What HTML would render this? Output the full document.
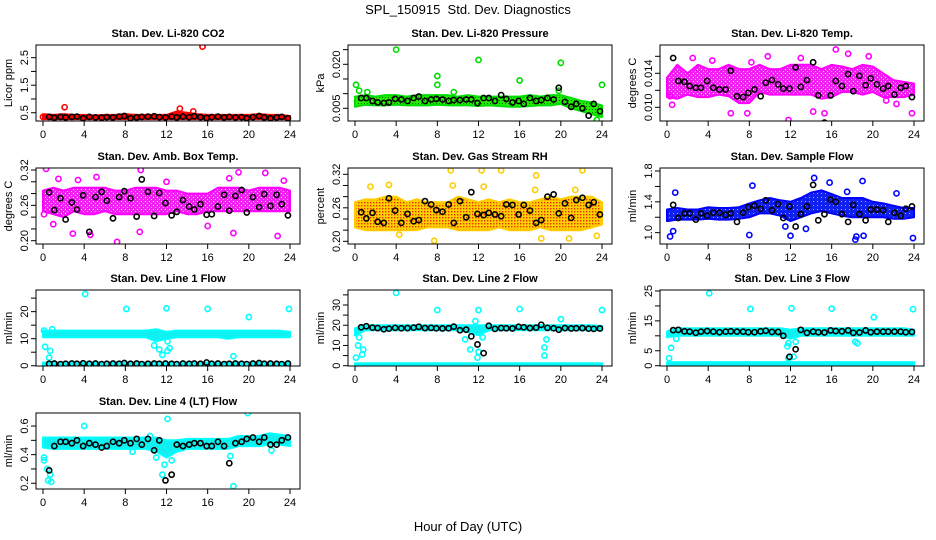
<!DOCTYPE html>
<html><head><meta charset="utf-8"><style>
body{margin:0;background:#fff;}
svg{display:block;font-family:"Liberation Sans",sans-serif;}
</style></head><body>
<svg id="c" width="936" height="540" viewBox="0 0 936 540">
<defs>
<pattern id="rhpat" width="3" height="3" patternUnits="userSpaceOnUse"><rect width="3" height="3" fill="#ffd000"/><rect x="1" y="1" width="1.4" height="1.4" fill="#e83000"/></pattern>
<pattern id="grnpat" width="3" height="3" patternUnits="userSpaceOnUse"><rect width="3" height="3" fill="#22ee00"/><rect x="1" y="1" width="1" height="1" fill="#0a6600"/></pattern>
<pattern id="magpat" width="4" height="4" patternUnits="userSpaceOnUse"><rect width="4" height="4" fill="#f020f0"/><rect x="1" y="1" width="1" height="1" fill="#ffffff"/><rect x="3" y="3" width="1" height="1" fill="#ffb0ff"/></pattern>
<pattern id="bluepat" width="4" height="4" patternUnits="userSpaceOnUse"><rect width="4" height="4" fill="#1020f0"/><rect x="1" y="1" width="1" height="1" fill="#a0a8ff"/></pattern>
</defs>
<text x="468" y="14" font-size="13" text-anchor="middle" xml:space="preserve">SPL_150915  Std. Dev. Diagnostics</text>
<text x="468" y="531" font-size="13" text-anchor="middle">Hour of Day (UTC)</text>
</svg>
<script>
const hours = [0,1,2,3,4,5,6,7,8,9,10,11,12,13,14,15,16,17,18,19,20,21,22,23,24];
const blackHours = [0.6,1.1,1.7,2.2,2.8,3.3,3.9,4.5,5.1,5.7,6.2,6.8,7.4,7.9,8.5,9.1,9.6,10.2,10.8,11.3,11.9,12.5,13.0,13.6,14.2,14.7,15.3,15.9,16.4,17.0,17.6,18.1,18.7,19.3,19.8,20.4,21.0,21.5,22.1,22.7,23.2,23.8];
const xTicks = [0,4,8,12,16,20,24];

const co2Lo = [0.27,0.27,0.27,0.27,0.27,0.27,0.27,0.27,0.27,0.27,0.27,0.27,0.27,0.27,0.27,0.27,0.27,0.27,0.27,0.27,0.27,0.27,0.27,0.27,0.27];
const co2Hi = [0.45,0.42,0.45,0.42,0.42,0.4,0.42,0.42,0.45,0.42,0.42,0.42,0.42,0.55,0.5,0.45,0.42,0.42,0.42,0.42,0.42,0.45,0.42,0.42,0.38];
const co2Black = [0.35,0.32,0.35,0.33,0.35,0.36,0.3,0.35,0.33,0.32,0.34,0.33,0.36,0.38,0.3,0.33,0.35,0.36,0.37,0.34,0.33,0.36,0.33,0.36,0.34,0.37,0.34,0.31,0.34,0.36,0.33,0.35,0.33,0.34,0.3,0.34,0.38,0.33,0.3,0.33,0.35,0.3];
const co2Out = [[2.1,0.7],[15.5,2.9],[13.3,0.65],[14.6,0.55],[0,0.35]];

const presLo = [0.0055,0.0062,0.006,0.006,0.0062,0.006,0.006,0.006,0.0062,0.006,0.006,0.006,0.0058,0.006,0.0058,0.0055,0.0055,0.0058,0.006,0.006,0.0065,0.005,0.004,0.003,0.002];
const presHi = [0.009,0.0095,0.009,0.0095,0.0095,0.009,0.0095,0.0095,0.0095,0.0095,0.009,0.0095,0.009,0.009,0.009,0.009,0.009,0.0095,0.009,0.0095,0.0095,0.0085,0.0075,0.007,0.006];
const presBlack = [0.0085,0.0085,0.0075,0.007,0.0068,0.007,0.0082,0.008,0.0075,0.0085,0.009,0.0075,0.008,0.0082,0.008,0.0075,0.0078,0.0078,0.008,0.008,0.0068,0.0085,0.0085,0.0075,0.0095,0.0082,0.007,0.0075,0.0065,0.0085,0.0075,0.0078,0.0085,0.008,0.012,0.0072,0.0055,0.0065,0.005,0.0025,0.0065,0.004];
const presOut = [[0.1,0.013],[0.4,0.011],[4,0.025],[8,0.016],[8,0.013],[12,0.0215],[16,0.0145],[20,0.0205],[24,0.013],[19.8,0.011],[23.5,0.001],[1.2,0.0105],[9.6,0.0105]];

const tempLo = [0.0112,0.011,0.0115,0.0112,0.0112,0.0115,0.0113,0.0105,0.0105,0.0118,0.0115,0.0115,0.0115,0.0115,0.0115,0.011,0.0112,0.0118,0.0118,0.0115,0.0118,0.0112,0.0112,0.0112,0.0115];
const tempHi = [0.0135,0.015,0.014,0.015,0.0145,0.0145,0.015,0.0145,0.0145,0.015,0.0145,0.0145,0.015,0.015,0.015,0.0145,0.015,0.0148,0.0145,0.015,0.0148,0.014,0.0132,0.013,0.0128];
const tempBlack = [0.0158,0.0131,0.013,0.0125,0.0123,0.0123,0.0131,0.0123,0.0121,0.0121,0.0143,0.0113,0.0112,0.0117,0.0121,0.0113,0.0129,0.0132,0.0127,0.0122,0.0122,0.0147,0.0124,0.0132,0.0153,0.0114,0.0082,0.0114,0.0131,0.0125,0.0139,0.0119,0.0137,0.0126,0.0134,0.0127,0.0122,0.0125,0.0115,0.0123,0.0125,0.0112];
const tempOut = [[0.3,0.0113],[0.5,0.0103],[6.2,0.0093],[7.8,0.0093],[8.2,0.0153],[11.8,0.0085],[13,0.0158],[14.2,0.0095],[15.3,0.0093],[16.4,0.0168],[17.6,0.0163],[19.6,0.016],[23.8,0.0093],[9.8,0.016],[2.5,0.0158],[4.4,0.0155],[21.3,0.0108],[22.3,0.0104]];

const ambLo = [0.25,0.245,0.24,0.25,0.245,0.245,0.25,0.245,0.245,0.245,0.245,0.245,0.245,0.25,0.245,0.245,0.25,0.25,0.25,0.25,0.25,0.25,0.25,0.25,0.25];
const ambHi = [0.285,0.29,0.285,0.29,0.29,0.29,0.29,0.285,0.285,0.29,0.29,0.29,0.285,0.285,0.28,0.28,0.28,0.29,0.29,0.29,0.285,0.29,0.29,0.29,0.285];
const ambBlack = [0.282,0.252,0.272,0.236,0.265,0.253,0.277,0.215,0.274,0.283,0.268,0.238,0.274,0.284,0.272,0.241,0.304,0.283,0.242,0.281,0.264,0.243,0.249,0.269,0.258,0.253,0.262,0.244,0.245,0.258,0.278,0.251,0.276,0.286,0.248,0.274,0.257,0.279,0.259,0.278,0.262,0.243];
const ambOut = [[0.3,0.322],[0.1,0.245],[1.0,0.228],[2.9,0.212],[4.6,0.21],[7.2,0.198],[9.5,0.32],[9.4,0.215],[12,0.30],[16,0.225],[18.5,0.213],[19,0.316],[21.6,0.315],[22.8,0.208],[23.4,0.302],[5.2,0.308],[1.5,0.305],[3.4,0.303],[18.1,0.306]];

const rhLo = [0.225,0.22,0.22,0.22,0.22,0.22,0.22,0.225,0.225,0.225,0.22,0.22,0.22,0.22,0.225,0.22,0.22,0.22,0.225,0.22,0.22,0.22,0.22,0.225,0.23];
const rhHi = [0.27,0.275,0.275,0.28,0.28,0.27,0.275,0.27,0.27,0.27,0.28,0.275,0.27,0.275,0.27,0.275,0.27,0.27,0.275,0.28,0.275,0.28,0.28,0.28,0.27];
const rhBlack = [0.252,0.241,0.251,0.235,0.233,0.277,0.255,0.233,0.249,0.236,0.238,0.272,0.266,0.256,0.253,0.266,0.233,0.272,0.243,0.288,0.249,0.247,0.251,0.248,0.245,0.266,0.265,0.248,0.265,0.255,0.233,0.238,0.28,0.284,0.25,0.268,0.242,0.274,0.278,0.265,0.27,0.248];
const rhOut = [[3.3,0.301],[9.3,0.327],[12.3,0.327],[14.2,0.327],[17.6,0.318],[22.1,0.327],[7.7,0.201],[4.3,0.212],[18.1,0.205],[20.8,0.205],[1.5,0.298],[23.5,0.21],[9.5,0.3],[12.5,0.298],[21.4,0.292],[17.5,0.292]];

const flowLo = [1.15,1.17,1.17,1.17,1.18,1.17,1.17,1.18,1.2,1.25,1.25,1.22,1.15,1.2,1.25,1.28,1.25,1.22,1.2,1.2,1.2,1.2,1.18,1.18,1.2];
const flowHi = [1.3,1.32,1.3,1.3,1.33,1.32,1.32,1.33,1.38,1.42,1.45,1.42,1.4,1.45,1.52,1.55,1.5,1.45,1.45,1.45,1.4,1.38,1.35,1.32,1.32];
const flowBlack = [1.36,1.19,1.25,1.25,1.17,1.25,1.22,1.26,1.26,1.23,1.25,1.14,1.26,1.33,1.35,1.31,1.42,1.29,1.37,1.19,1.34,1.08,1.24,1.34,1.62,1.16,1.24,1.43,1.4,1.24,1.14,1.36,1.24,1.16,1.3,1.3,1.29,1.14,1.26,1.22,1.31,1.34];
const flowOut = [[0.3,0.95],[0.8,1.52],[0.6,1.02],[8,0.97],[8.3,1.61],[12,0.96],[14.3,1.71],[15.8,1.65],[18.3,0.91],[18.4,0.95],[19,1.67],[19.1,0.96],[23.9,0.93],[22.3,1.51],[13.5,1.05],[11.5,1.08],[17.5,1.53]];

const l1Lo = [10.5,10.5,10.5,10.5,10.5,10.5,10.5,10.5,10.5,10.5,10.5,9,10,10.5,10.5,10.5,10.5,10.5,10,10.5,10.5,10.5,10.5,10.5,10.5];
const l1Hi = [13,13,13,13,13,13,13,13,13,13,13,13.5,12.5,13,13,13,13,13,13,13,13,13,13,13,12.5];
const l1Black = [0.7,0.8,0.6,0.7,0.8,0.7,0.9,0.7,0.8,0.6,0.7,0.8,0.7,1.0,0.7,0.8,0.6,0.7,0.8,0.7,0.8,0.7,0.6,0.8,0.7,0.8,0.7,1.2,0.7,0.8,0.6,0.7,0.8,0.7,0.6,0.8,1.0,0.7,0.8,0.7,0.6,0.8];
const l1Out = [[4.1,26.5],[8.1,21],[12,21.2],[16,21],[20,18],[23.9,21],[0.2,7],[0.7,5.5],[0.6,3],[10.8,7.5],[11.3,6],[11.6,4],[12.1,5.5],[12.3,6.5],[18.5,3.5],[0.1,13],[0.9,13.5],[12.1,9]];

const l2Lo = [15,17.5,17.5,17.5,17.5,17.5,17.5,17.5,17.5,17.5,17.5,16.5,15,17.5,17.5,17.5,17.5,17.5,17.5,17.5,17.5,17.5,17.5,17.5,17.5];
const l2Hi = [18.5,20,20,20,20,20,20,20,20,20,20,20,20,20,20,20,20,20,20,20,20,20,20,20,19.5];
const l2Black = [19,19.5,18.8,18.6,18,18.3,18.7,18.5,18.6,18.8,19.2,18.6,18.7,18.5,18.4,18.5,19.3,17.5,17.8,14.5,10.5,6.2,19.7,18.2,18.6,18.5,18.4,19.2,19,18.6,18.8,20.2,18.7,18.5,17.8,18.6,18.4,18.5,18.6,18.3,18.2,18.4];
const l2Out = [[4,36],[8,27.5],[12,27.5],[16,28],[20,23],[24,27.5],[0.1,4],[0.3,10],[0.4,14],[0.8,8],[0.7,5.5],[10.7,13],[11.2,8],[11.7,22],[11.9,4],[12.4,14],[18.4,9],[18.4,5],[18.6,13],[12,6.8]];

const l3Lo = [9.5,10,10,10,10,10,10,10,10,10,10,10,9,10,10,10,10,10,10,10,10,10,10,10,10];
const l3Hi = [11.5,12.5,12.5,12.5,12.5,12.5,12.5,12.5,12.5,12.5,12.5,12.5,12,12.5,12.5,12.5,12.5,12.5,12.5,12.5,12.5,12.5,12.5,12.5,12];
const l3Black = [11.9,12,11.5,11.4,11,11.4,11.6,11.4,11.2,11.4,11.5,11.4,11.4,11.2,11.2,11.5,11.7,11.3,11.3,10,3,5.5,12,11,11.4,11.2,11.1,11.8,11.6,11.5,11.8,11,11.1,11.8,11.2,11.4,11.4,11.4,11.4,11.4,11.2,11.3];
const l3Out = [[4.1,24.2],[8.1,19],[12.1,19.2],[16,19.1],[20.1,16.2],[23.9,18.9],[0.2,2.5],[0.4,6],[0.9,9],[11.7,6.5],[12.3,3],[12.5,8],[18.3,8],[18.5,7.5],[11.8,7.5],[11.8,2.5]];

const l4Lo = [0.45,0.44,0.44,0.44,0.44,0.44,0.44,0.44,0.44,0.44,0.44,0.42,0.38,0.42,0.44,0.44,0.44,0.44,0.44,0.46,0.46,0.46,0.47,0.47,0.46];
const l4Hi = [0.52,0.52,0.52,0.52,0.52,0.52,0.52,0.52,0.52,0.52,0.52,0.52,0.5,0.5,0.51,0.51,0.51,0.51,0.51,0.53,0.53,0.53,0.55,0.54,0.53];
const l4Black = [0.29,0.46,0.49,0.49,0.48,0.5,0.46,0.48,0.47,0.45,0.46,0.49,0.48,0.5,0.48,0.51,0.47,0.51,0.43,0.5,0.22,0.26,0.47,0.46,0.47,0.48,0.48,0.46,0.46,0.49,0.46,0.34,0.48,0.49,0.51,0.52,0.49,0.52,0.47,0.47,0.5,0.52];
const l4Out = [[0.1,0.38],[0.1,0.36],[0.5,0.22],[0.8,0.21],[0.7,0.26],[4,0.6],[10.4,0.53],[11,0.38],[11.6,0.26],[12.1,0.65],[18.5,0.18],[19.9,0.69],[22.2,0.43],[18.2,0.39],[8.7,0.42],[0.4,0.3],[11.8,0.33],[12.5,0.36]];

const bottomLo = [0,0,0,0,0,0,0,0,0,0,0,0,0,0,0,0,0,0,0,0,0,0,0,0,0];
const bottomHi = [1.2,1.2,1.2,1.2,1.2,1.2,1.2,1.2,1.2,1.2,1.2,1.2,1.2,1.2,1.2,1.2,1.2,1.2,1.2,1.2,1.2,1.2,1.2,1.2,1.2];

const panels = [
 {name:"co2",title:"Stan. Dev. Li-820 CO2",ylab:"Licor ppm",col:0,row:0,ymin:0.2,ymax:2.96,ticks:[0.5,1,1.5,2,2.5],labels:[0.5,1.5,2.5],color:"#ff0000",fill:"#ff0000",lo:co2Lo,hi:co2Hi,black:co2Black,out:co2Out},
 {name:"pressure",title:"Stan. Dev. Li-820 Pressure",ylab:"kPa",col:1,row:0,ymin:0.00067,ymax:0.02658,ticks:[0.005,0.01,0.015,0.02,0.025],labels:[0.005,0.02],fmt:3,color:"#00dd00",fill:"url(#grnpat)",lo:presLo,hi:presHi,black:presBlack,out:presOut},
 {name:"li820-temp",title:"Stan. Dev. Li-820 Temp.",ylab:"degrees C",col:2,row:0,ymin:0.00839,ymax:0.01733,ticks:[0.01,0.012,0.014,0.016],labels:[0.01,0.014],fmt:3,color:"#ff00ff",fill:"url(#magpat)",lo:tempLo,hi:tempHi,black:tempBlack,out:tempOut},
 {name:"amb-box-temp",title:"Stan. Dev. Amb. Box Temp.",ylab:"degrees C",col:0,row:1,ymin:0.1944,ymax:0.3234,ticks:[0.2,0.22,0.24,0.26,0.28,0.3,0.32],labels:[0.2,0.26,0.32],fmt:2,color:"#ff00ff",fill:"url(#magpat)",lo:ambLo,hi:ambHi,black:ambBlack,out:ambOut},
 {name:"gas-stream-rh",title:"Stan. Dev. Gas Stream RH",ylab:"percent",col:1,row:1,ymin:0.1952,ymax:0.3313,ticks:[0.2,0.22,0.24,0.26,0.28,0.3,0.32],labels:[0.2,0.26,0.32],fmt:2,color:"#ffcc00",fill:"url(#rhpat)",lo:rhLo,hi:rhHi,black:rhBlack,out:rhOut},
 {name:"sample-flow",title:"Stan. Dev. Sample Flow",ylab:"ml/min",col:2,row:1,ymin:0.853,ymax:1.839,ticks:[1,1.2,1.4,1.6,1.8],labels:[1,1.4,1.8],fmt:1,color:"#0000ff",fill:"url(#bluepat)",lo:flowLo,hi:flowHi,black:flowBlack,out:flowOut},
 {name:"line1-flow",title:"Stan. Dev. Line 1 Flow",ylab:"ml/min",col:0,row:2,ymin:-0.1,ymax:28,ticks:[0,5,10,15,20,25],labels:[0,10,20],color:"#00ffff",fill:"#10f0f0",lo:l1Lo,hi:l1Hi,lo2:bottomLo,hi2:bottomHi,black:l1Black,out:l1Out},
 {name:"line2-flow",title:"Stan. Dev. Line 2 Flow",ylab:"ml/min",col:1,row:2,ymin:-0.15,ymax:37.4,ticks:[0,5,10,15,20,25,30,35],labels:[0,10,20,30],color:"#00ffff",fill:"#10f0f0",lo:l2Lo,hi:l2Hi,lo2:bottomLo,hi2:bottomHi,black:l2Black,out:l2Out},
 {name:"line3-flow",title:"Stan. Dev. Line 3 Flow",ylab:"ml/min",col:2,row:2,ymin:-0.1,ymax:25.33,ticks:[0,5,10,15,20,25],labels:[0,5,15,25],color:"#00ffff",fill:"#10f0f0",lo:l3Lo,hi:l3Hi,lo2:bottomLo,hi2:bottomHi,black:l3Black,out:l3Out},
 {name:"line4-flow",title:"Stan. Dev. Line 4 (LT) Flow",ylab:"ml/min",col:0,row:3,ymin:0.16,ymax:0.691,ticks:[0.2,0.3,0.4,0.5,0.6],labels:[0.2,0.4,0.6],fmt:1,color:"#00ffff",fill:"#10f0f0",lo:l4Lo,hi:l4Hi,black:l4Black,out:l4Out}
];

const NS = "http://www.w3.org/2000/svg";
const svg = document.getElementById("c");
const rowTops = [45,168,290,413];
function mk(tag, attrs, parent){ const e=document.createElementNS(NS,tag); for(const k in attrs) e.setAttribute(k,attrs[k]); (parent||svg).appendChild(e); return e; }

panels.forEach(p=>{
  const L = 36+312*p.col, T = rowTops[p.row], W = 264, H = 76;
  const xs = h => L+7+h*(247/24);
  const ys = v => T+H-(v-p.ymin)/(p.ymax-p.ymin)*H;
  const g = mk("g",{});
  
  
  const clip = mk("clipPath",{id:"clip-"+p.name},g);
  mk("rect",{x:L,y:T,width:W,height:H},clip);
  const plot = mk("g",{"clip-path":"url(#clip-"+p.name+")"},g);
  
  
  function band(lo,hi,nm){
    let d="";
    hours.forEach((h,i)=>{ d+=(i?"L":"M")+xs(h).toFixed(1)+","+ys(hi[i]).toFixed(1); });
    for(let i=hours.length-1;i>=0;i--) d+="L"+xs(hours[i]).toFixed(1)+","+ys(lo[i]).toFixed(1);
    const b = mk("path",{d:d+"Z",fill:p.fill,stroke:p.color,"stroke-width":"2","stroke-linejoin":"round"},plot);
    
    
  }
  band(p.lo,p.hi,p.name+'-band');
  if(p.lo2) band(p.lo2,p.hi2,p.name+'-baseline-band');
  p.out.forEach(o=>{
    const c = mk("circle",{cx:xs(o[0]),cy:ys(o[1]),r:2.6,fill:"none",stroke:p.color,"stroke-width":"1.6"},plot);
    
    
  });
  p.black.forEach((v,i)=>{
    const c = mk("circle",{cx:xs(blackHours[i]),cy:ys(v),r:2.6,fill:"none",stroke:"#000","stroke-width":"1.6"},plot);
    
    
  });
  const box = mk("rect",{x:L,y:T,width:W,height:H,fill:"none",stroke:"#000","stroke-width":"1"},g);
  
  
  const t = mk("text",{x:L+W/2,y:T-8,"font-size":"11","font-weight":"bold","text-anchor":"middle"},g);
  t.textContent = p.title;
  
  
  const yl = mk("text",{x:0,y:0,"font-size":"11","text-anchor":"middle",transform:"translate("+(L-24)+","+(T+H/2)+") rotate(-90)"},g);
  yl.textContent = p.ylab;
  
  
  xTicks.forEach(h=>{
    mk("line",{x1:xs(h),x2:xs(h),y1:T+H,y2:T+H+5,stroke:"#000"},g);
    const tx = mk("text",{x:xs(h),y:T+H+17,"font-size":"11","text-anchor":"middle"},g);
    tx.textContent = h;
    
    
  });
  p.ticks.forEach(v=>{
    mk("line",{x1:L,x2:L-5,y1:ys(v),y2:ys(v),stroke:"#000"},g);
  });
  p.labels.forEach(v=>{
    const s = p.fmt ? v.toFixed(p.fmt) : String(v);
    const ty = mk("text",{x:0,y:0,"font-size":"11","text-anchor":"middle",transform:"translate("+(L-8)+","+ys(v)+") rotate(-90)"},g);
    ty.textContent = s;
    
    
  });
});
</script>
</body></html>
